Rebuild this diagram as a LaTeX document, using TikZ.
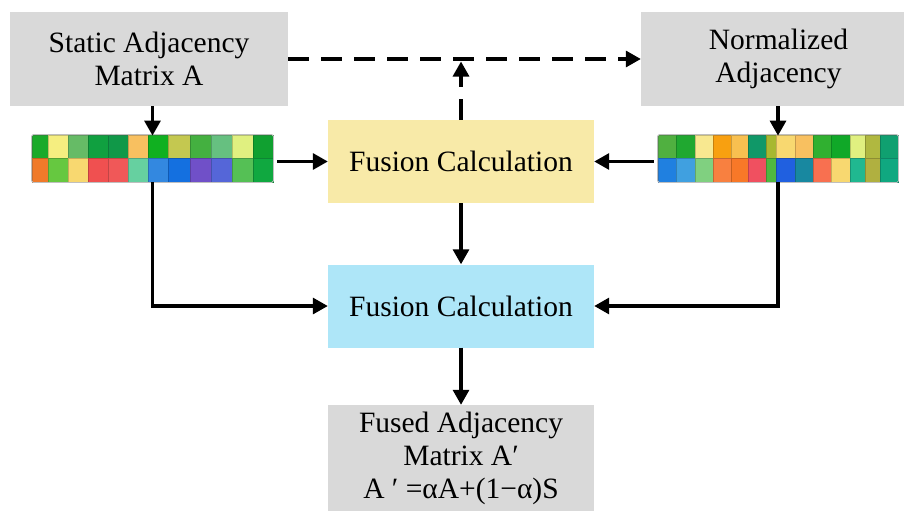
\documentclass[tikz,border=0pt]{standalone}
\usepackage{fontspec}
\setmainfont{Liberation Serif}
\usetikzlibrary{arrows.meta}

\definecolor{boxgray}{HTML}{D9D9D9}
\definecolor{boxyellow}{HTML}{F8EAA8}
\definecolor{boxblue}{HTML}{AEE6F8}

\tikzset{
  blk/.style={rectangle, inner sep=0pt, align=center,
    font=\fontsize{29.5}{33}\selectfont, text=black},
  flow/.style={line width=3.2pt, -{Triangle[length=15pt,width=16pt]}},
  dflow/.style={flow, dash pattern=on 21pt off 12pt},
  matframe/.style={rectangle, inner sep=0pt, draw=black!25, line width=0.8pt,
    rounded corners=1.5pt},
}

% one column of a two-row heat strip: x0/x1/top colour/bottom colour
\newcommand{\heatcol}[5]{%
  \definecolor{celltop}{HTML}{#3}%
  \definecolor{cellbot}{HTML}{#4}%
  \fill[celltop, draw=celltop!80!black, line width=0.5pt] (#1,#5) rectangle (#2,158.5);
  \fill[cellbot, draw=cellbot!80!black, line width=0.5pt] (#1,158.5) rectangle (#2,182);
}

\begin{document}
\begin{tikzpicture}[x=1pt, y=-1pt]
\useasboundingbox (0,0) rectangle (904,511);

% boxes
\node[blk, fill=boxgray, minimum width=278pt, minimum height=94pt] (stat) at (149,59)
  {Static Adjacency\\Matrix A};
\node[blk, fill=boxgray, minimum width=263pt, minimum height=94pt] (norm) at (772.5,59)
  {\hspace*{12pt}Normalized\\\hspace*{12pt}Adjacency};
\node[blk, fill=boxyellow, minimum width=266pt, minimum height=83pt] (yel) at (461,161.5)
  {Fusion Calculation};
\node[blk, fill=boxblue, minimum width=266pt, minimum height=83pt] (blu) at (461,306)
  {Fusion Calculation};
\node[blk, fill=boxgray, minimum width=266pt, minimum height=106pt] (fused) at (461,458)
  {Fused Adjacency\\Matrix A′\\A ′ =αA+(1−α)S};

% heat strips
\node[matframe, minimum width=241pt, minimum height=47pt] (matL) at (152.5,158.5) {};
\node[matframe, minimum width=240pt, minimum height=47pt] (matR) at (778,158.5) {};

\foreach \a/\b/\t/\u in {
   32/48/1AAA2A/F07A2A, 48/68/F5EE80/66C840, 68/88/66BB66/F8D870,
   88/108/10A040/F05050, 108/128/109848/F05858, 128/148/F8C060/66D0A0,
   148/168/10B020/3388E0, 168/190/C4C850/1470E0, 190/211/44B040/7050C8,
   211/232/66C080/5566D8, 232/253/E0F080/55C055, 253/273/10A030/10A840}
  {\heatcol{\a}{\b}{\t}{\u}{135}}

\foreach \a/\b/\t/\u in {
   658/676.5/50B040/2080E0, 676.5/695/20A830/40A0E0, 695/713.5/F8E890/80D080,
   713.5/731.5/F8A010/F88040, 731.5/748.5/F8C050/F87828, 748.5/766.5/109868/F05060,
   766.5/776.5/A8B830/50B840, 776.5/795/F8D870/2060E0, 795/813.5/F8C060/1888A0,
   813.5/831.5/30B030/F87050, 831.5/850/10A828/F8D870, 850/865/E0F080/20B890,
   865/880/B0B840/B0B040, 880/898/10A070/10A880}
  {\heatcol{\a}{\b}{\t}{\u}{135}}

\draw[matframe, fill=none] (matL.south west) rectangle (matL.north east);
\draw[matframe, fill=none] (matR.south west) rectangle (matR.north east);

% connectors
\draw[flow] (stat.south -| matL.north) -- ([yshift=-1pt]matL.north);
\draw[flow] (norm.south -| matR.north) -- ([yshift=-1pt]matR.north);
\draw[flow, shorten <=4pt] (yel.west -| matL.east) -- (yel.west);
\draw[flow, shorten <=4pt] (yel.east -| matR.west) -- (yel.east);
\draw[dflow] (stat.east) -- (norm.west);
\draw[dflow, shorten >=2.5pt] (yel.north) -- (yel.north |- stat.east);
\draw[flow] (yel.south) -- (blu.north);
\draw[flow] (matL.south) |- (blu.west);
\draw[flow] (matR.south) |- (blu.east);
\draw[flow] (blu.south) -- (fused.north);
\end{tikzpicture}
\end{document}
